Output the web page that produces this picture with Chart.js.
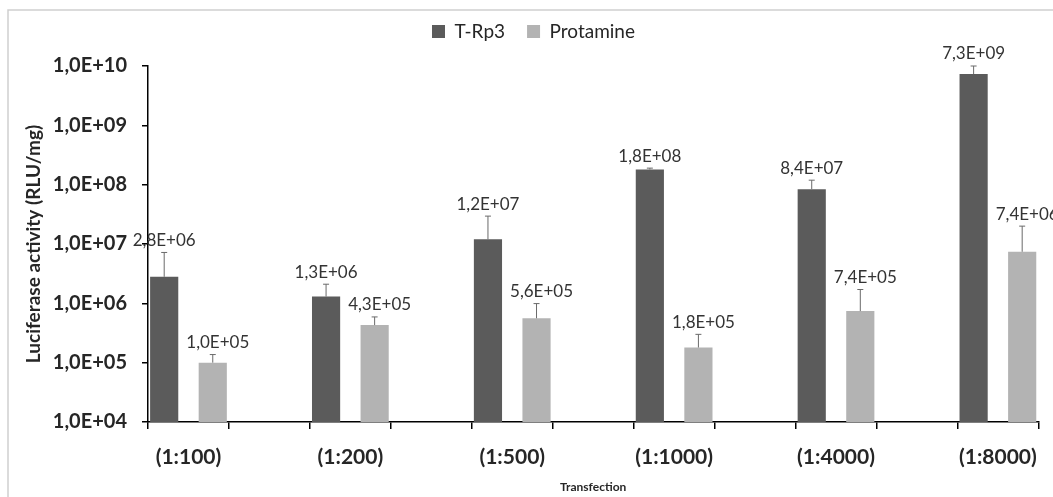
<!DOCTYPE html>
<html>
<head>
<meta charset="utf-8">
<script src="https://cdn.jsdelivr.net/npm/chart.js@4.4.0/dist/chart.umd.min.js"></script>
<style>
  html, body { margin: 0; padding: 0; background: #fff; }
  #wrap { position: relative; width: 1053px; height: 497px; overflow: hidden; }
</style>
</head>
<body>
<div id="wrap"><canvas id="myChart" width="1053" height="497"></canvas></div>
<script>
var categories = ['(1:100)', '(1:200)', '(1:500)', '(1:1000)', '(1:4000)', '(1:8000)'];
var trp3Values = [2.8e6, 1.3e6, 1.2e7, 1.8e8, 8.4e7, 7.3e9];
var trp3Errors = [4.4e6, 0.8e6, 1.75e7, 1.0e7, 3.5e7, 2.7e9];
var protamineValues = [1.0e5, 4.3e5, 5.6e5, 1.8e5, 7.4e5, 7.4e6];
var protamineErrors = [3.7e4, 1.6e5, 4.3e5, 1.2e5, 9.7e5, 1.26e7];
var yTicks = [1e4, 1e5, 1e6, 1e7, 1e8, 1e9, 1e10];

// Excel-like number format: 1,0E+10
function fmt(v) {
  var parts = Number(v).toExponential(1).split('e');
  var e = parseInt(parts[1], 10);
  return parts[0].replace('.', ',') + 'E' + (e < 0 ? '-' : '+') + String(Math.abs(e)).padStart(2, '0');
}

// the original axis has an empty slot between each group
function spread(arr, blank) {
  var out = [];
  arr.forEach(function(v, i) {
    if (i > 0) out.push(blank);
    out.push(v);
  });
  return out;
}

var errorBars = {
  id: 'errorBars',
  beforeInit: function(chart) {
    // extra room between legend and plot
    var fit = chart.legend.fit;
    chart.legend.fit = function() {
      fit.call(this);
      this.height += 15;
    };
  },
  beforeDraw: function(chart) {
    var ctx = chart.ctx;
    ctx.save();
    ctx.strokeStyle = '#cfcfcf';
    ctx.lineWidth = 1.5;
    ctx.beginPath();
    ctx.moveTo(8, 497);
    ctx.lineTo(8, 10);
    ctx.lineTo(1053, 10);
    ctx.stroke();
    ctx.restore();
  },
  afterDatasetsDraw: function(chart) {
    var ctx = chart.ctx;
    var y = chart.scales.y;
    chart.data.datasets.forEach(function(ds, i) {
      var meta = chart.getDatasetMeta(i);
      meta.data.forEach(function(bar, j) {
        var v = ds.data[j];
        if (v == null) return;
        var top = y.getPixelForValue(v + ds.errors[j]);
        ctx.save();
        ctx.strokeStyle = '#6a6a6a';
        ctx.lineWidth = 1;
        ctx.beginPath();
        ctx.moveTo(bar.x, bar.y);
        ctx.lineTo(bar.x, top);
        ctx.moveTo(bar.x - 3, top);
        ctx.lineTo(bar.x + 3, top);
        ctx.stroke();
        ctx.fillStyle = '#333';
        ctx.font = '17px Lato';
        ctx.textAlign = 'center';
        ctx.textBaseline = 'middle';
        ctx.fillText(fmt(v), bar.x + ds.labelShift, top - 12);
        ctx.restore();
      });
    });
  }
};

var ctx = document.getElementById('myChart').getContext('2d');
var myChart = new Chart(ctx, {
  type: 'bar',
  data: {
    labels: spread(categories, ''),
    datasets: [{
      label: 'T-Rp3',
      data: spread(trp3Values, null),
      errors: spread(trp3Errors, null),
      labelShift: 0,
      backgroundColor: '#5b5b5b',
      borderWidth: 0
    }, {
      label: 'Protamine',
      data: spread(protamineValues, null),
      errors: spread(protamineErrors, null),
      labelShift: 5,
      backgroundColor: '#b3b3b3',
      borderWidth: 0
    }]
  },
  options: {
    responsive: false,
    animation: false,
    devicePixelRatio: 1,
    categoryPercentage: 1.2,
    barPercentage: 0.58,
    layout: { padding: { left: 18, right: 4, top: 0, bottom: 3 } },
    plugins: {
      legend: {
        position: 'top',
        labels: {
          font: { family: 'Lato', size: 19 },
          color: '#262626',
          boxWidth: 13,
          boxHeight: 13,
          padding: 22
        }
      },
      tooltip: { enabled: false }
    },
    scales: {
      x: {
        offset: true,
        grid: { offset: true, drawOnChartArea: false, tickLength: 7, color: '#000', lineWidth: 1.5 },
        border: { color: '#000', width: 1.5 },
        ticks: {
          font: { family: 'Lato', size: 21, weight: 'bold' },
          color: '#262626',
          padding: 16,
          autoSkip: false,
          maxRotation: 0
        },
        title: {
          display: true,
          text: 'Transfection',
          font: { family: 'Lato', size: 12, weight: 'bold' },
          color: '#262626',
          padding: { top: 0, bottom: 0 }
        },
        afterFit: function(s) { s.height = 72; }
      },
      y: {
        type: 'logarithmic',
        min: 1e4,
        max: 1e10,
        afterBuildTicks: function(s) {
          s.ticks = yTicks.map(function(v) { return { value: v }; });
        },
        grid: { drawOnChartArea: false, tickLength: 6, color: '#000', lineWidth: 1.5 },
        border: { color: '#000', width: 1.5 },
        ticks: {
          callback: function(v) { return fmt(v); },
          font: { family: 'Lato', size: 20, weight: 'bold' },
          color: '#262626',
          padding: 15
        },
        title: {
          display: true,
          text: 'Luciferase activity (RLU/mg)',
          font: { family: 'Lato', size: 19, weight: 'bold' },
          color: '#262626',
          padding: { top: 4, bottom: 0 }
        },
        afterFit: function(s) { s.width = 130; }
      }
    }
  },
  plugins: [errorBars]
});
</script>
</body>
</html>
